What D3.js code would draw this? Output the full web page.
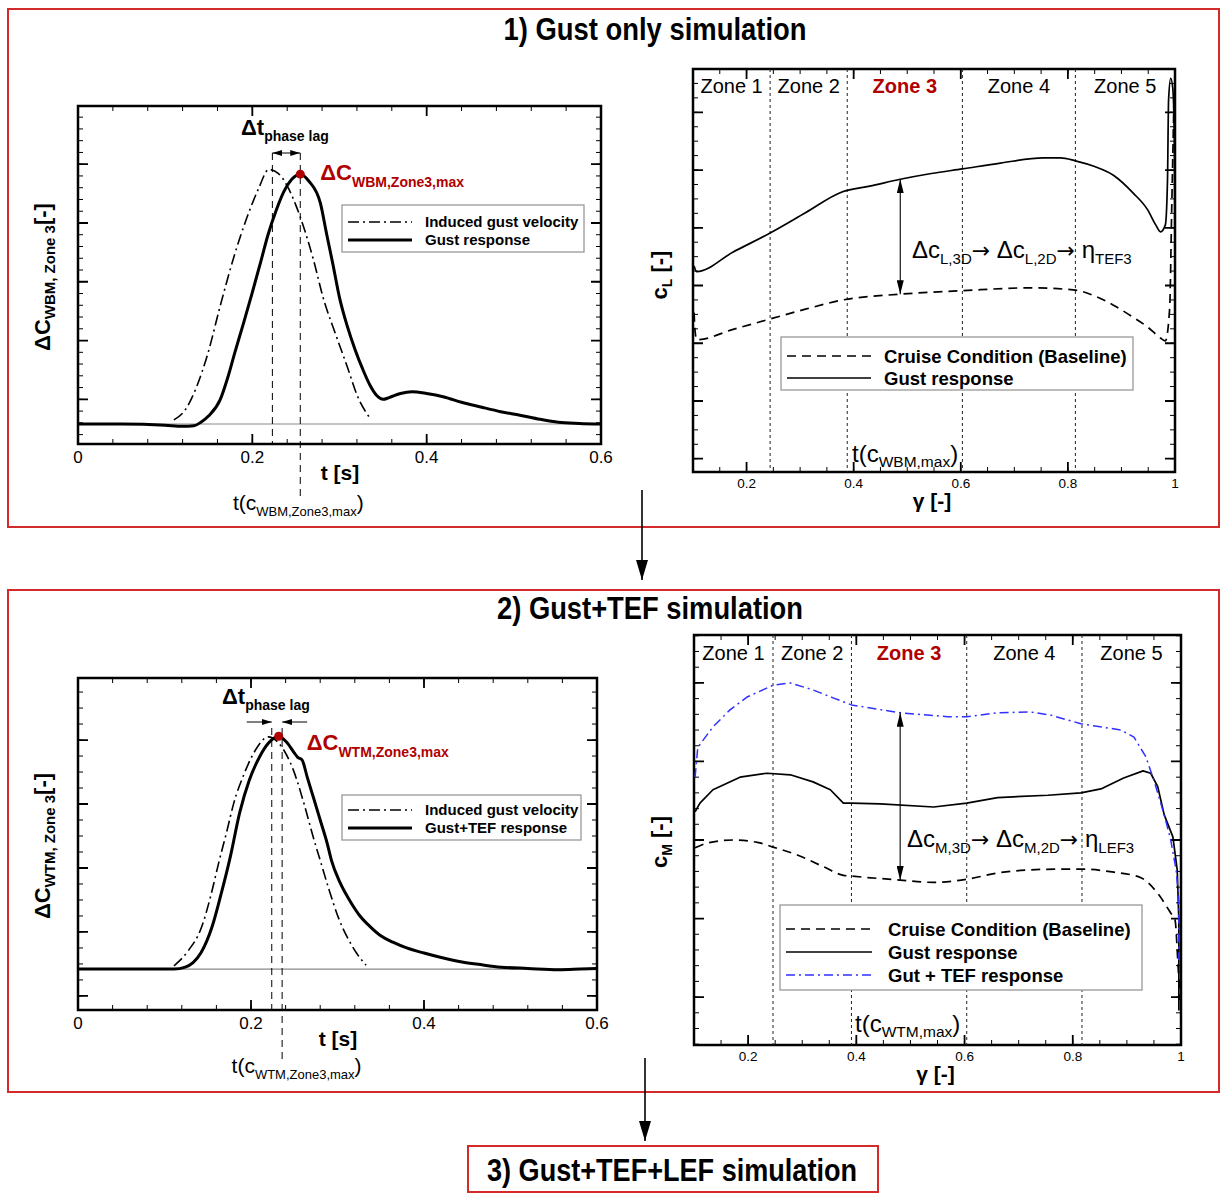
<!DOCTYPE html>
<html>
<head>
<meta charset="utf-8">
<script src="https://cdn.jsdelivr.net/npm/d3@7"></script>
<style>
body { margin: 0; background: #fff; }
text { font-family: "Liberation Sans", Arial, Helvetica, sans-serif; }
.title { font-family: "Liberation Sans Narrow", "Liberation Sans", sans-serif; }
</style>
</head>
<body>
<svg id="fig" width="1221" height="1194"></svg>
<script>
// ---- ticks and categories
var tTicks = [0, 0.2, 0.4, 0.6];
var gammaTicks = [0.2, 0.4, 0.6, 0.8, 1];
var zoneNames = ["Zone 1", "Zone 2", "Zone 3", "Zone 4", "Zone 5"];
var zoneBoundsLift = [0.244, 0.388, 0.603, 0.814];
var zoneBoundsMoment = [0.246, 0.391, 0.604, 0.817];
var panelTitles = ["1) Gust only simulation", "2) Gust+TEF simulation", "3) Gust+TEF+LEF simulation"];
var legendTop = ["Induced gust velocity", "Gust response"];
var legendBottom = ["Induced gust velocity", "Gust+TEF response"];
var legendLift = ["Cruise Condition (Baseline)", "Gust response"];
var legendMoment = ["Cruise Condition (Baseline)", "Gust response", "Gut + TEF response"];

// ---- panel 1, left: [t, dC]
var gustVelocityTop = [[0.11,0.07],[0.123,0.24],[0.136,0.63],[0.149,1.2],[0.163,2.0],[0.18,2.9],[0.194,3.52],[0.207,4.0],[0.219,4.33],
  [0.23,4.26],[0.24,4.05],[0.25,3.72],[0.26,3.3],[0.27,2.8],[0.282,2.11],[0.295,1.55],[0.309,0.97],[0.321,0.46],[0.335,0.1]];
var gustResponseTop = [[0,0],[0.05,0],[0.1,-0.02],[0.12,-0.04],[0.133,-0.03],[0.141,0.03],[0.15,0.14],[0.163,0.41],[0.172,0.8],
  [0.18,1.22],[0.19,1.72],[0.2,2.24],[0.21,2.78],[0.218,3.22],[0.227,3.62],[0.236,3.95],[0.245,4.16],[0.255,4.25],[0.265,4.13],
  [0.278,3.76],[0.285,3.25],[0.292,2.75],[0.3,2.15],[0.309,1.66],[0.318,1.26],[0.327,0.92],[0.335,0.66],[0.343,0.48],[0.35,0.42],
  [0.357,0.45],[0.37,0.52],[0.383,0.55],[0.4,0.52],[0.42,0.46],[0.44,0.37],[0.462,0.29],[0.485,0.21],[0.507,0.15],[0.53,0.08],
  [0.551,0.03],[0.575,0.01],[0.6,0]];
var phaseLagTop = [0.223, 0.255];
var peakTop = [0.255, 4.25];

// ---- panel 2, left: [t, dC]
var gustVelocityBottom = [[0.111,0.05],[0.127,0.28],[0.143,0.66],[0.153,1.12],[0.163,1.68],[0.172,2.15],[0.18,2.59],[0.192,3.05],
  [0.205,3.42],[0.22,3.63],[0.234,3.5],[0.249,3.11],[0.261,2.6],[0.272,2.06],[0.28,1.7],[0.29,1.25],[0.302,0.77],[0.312,0.48],
  [0.322,0.25],[0.333,0.06]];
var gustTefResponseBottom = [[0,0],[0.05,0],[0.111,0],[0.124,0.03],[0.133,0.1],[0.142,0.25],[0.155,0.66],[0.165,1.15],[0.176,1.75],
  [0.187,2.45],[0.198,2.95],[0.21,3.32],[0.22,3.53],[0.232,3.64],[0.241,3.55],[0.25,3.38],[0.254,3.31],[0.259,3.27],[0.265,3.0],
  [0.272,2.69],[0.28,2.33],[0.288,1.97],[0.293,1.7],[0.303,1.35],[0.316,1.03],[0.326,0.83],[0.338,0.66],[0.35,0.52],[0.364,0.42],
  [0.38,0.33],[0.4,0.25],[0.42,0.18],[0.444,0.11],[0.465,0.07],[0.489,0.03],[0.52,0.01],[0.555,-0.01],[0.58,0],[0.6,0.01]];
var phaseLagBottom = [0.224, 0.236];
var peakBottom = [0.232, 3.64];

// ---- panel 1, right: [gamma, cL]
var cLBaseline = [[0.102,2.53],[0.104,2.2],[0.107,2.06],[0.175,2.24],[0.244,2.42],[0.31,2.59],[0.38,2.75],[0.487,2.85],[0.603,2.91],
  [0.73,2.96],[0.814,2.92],[0.85,2.82],[0.885,2.66],[0.92,2.46],[0.949,2.28],[0.973,2.09],[0.982,2.04],[0.99,2.6],[0.994,4.4],[0.998,6.2]];
var cLGust = [[0.102,3.34],[0.107,3.24],[0.175,3.58],[0.244,3.91],[0.31,4.26],[0.378,4.62],[0.43,4.72],[0.487,4.84],[0.545,4.94],
  [0.603,5.02],[0.674,5.12],[0.754,5.21],[0.786,5.21],[0.814,5.16],[0.85,5.06],[0.885,4.91],[0.922,4.6],[0.949,4.31],[0.964,4.05],
  [0.973,3.93],[0.982,4.05],[0.986,4.83],[0.988,6.21],[0.992,6.59],[0.996,6.4],[0.999,5.4],[1.0,2.92]];
var arrowGammaLift = 0.487;

// ---- panel 2, right: [gamma, cM]
var cMBaseline = [[0.102,1.9],[0.124,1.96],[0.172,2.0],[0.217,1.97],[0.246,1.91],[0.291,1.81],[0.339,1.66],[0.376,1.55],[0.391,1.54],
  [0.481,1.49],[0.543,1.46],[0.604,1.5],[0.661,1.58],[0.722,1.62],[0.783,1.63],[0.815,1.63],[0.876,1.59],[0.926,1.52],[0.957,1.32],
  [0.981,1.07],[0.989,0.98],[0.994,0.47],[0.998,-0.04]];
var cMGust = [[0.102,2.36],[0.111,2.47],[0.135,2.64],[0.185,2.8],[0.235,2.85],[0.278,2.83],[0.32,2.74],[0.352,2.64],[0.376,2.47],
  [0.391,2.47],[0.444,2.46],[0.543,2.42],[0.604,2.47],[0.661,2.54],[0.754,2.57],[0.815,2.6],[0.852,2.65],[0.894,2.79],[0.93,2.88],
  [0.944,2.85],[0.957,2.68],[0.969,2.32],[0.985,2.04],[0.993,1.62],[0.996,0.98],[0.996,-0.17]];
var cMGustTef = [[0.102,2.8],[0.107,3.18],[0.135,3.44],[0.167,3.66],[0.198,3.82],[0.246,3.97],[0.278,4.0],[0.32,3.91],[0.357,3.81],
  [0.391,3.72],[0.444,3.66],[0.481,3.62],[0.569,3.57],[0.604,3.57],[0.661,3.62],[0.722,3.63],[0.759,3.59],[0.815,3.48],[0.889,3.4],
  [0.913,3.31],[0.935,3.06],[0.95,2.76],[0.969,2.32],[0.981,2.0],[0.991,1.62],[0.996,1.24],[0.996,0.47]];
var arrowGammaMoment = 0.481;

var RED_BOX = "#d42a2a", RED_TXT = "#b00000", BLUE = "#3030ff";

var svg = d3.select("#fig");
svg.append("rect").attr("width", 1221).attr("height", 1194).attr("fill", "#fff");

var defs = svg.append("defs");
function addMarker(id, w, h) {
    defs.append("marker").attr("id", id)
        .attr("viewBox", "0 0 " + w + " " + h)
        .attr("refX", w).attr("refY", h / 2)
        .attr("markerWidth", w).attr("markerHeight", h)
        .attr("markerUnits", "userSpaceOnUse")
        .attr("orient", "auto-start-reverse")
        .append("path").attr("d", "M0,0L" + w + "," + (h / 2) + "L0," + h + "z").attr("fill", "#000");
}
addMarker("headSmall", 10, 6);
addMarker("headMid", 14, 7);
addMarker("headBig", 20, 12);

// text with subscripts: parts = [{text, size, dy, family}]
function richText(parent, x, y, parts, anchor) {
    var t = parent.append("text").attr("x", x).attr("y", y).attr("text-anchor", anchor || "start");
    var cur = 0;
    parts.forEach(function(p) {
        var off = p.dy || 0;
        var s = t.append("tspan").text(p.text).attr("font-size", p.size).attr("dy", off - cur);
        if (p.family) s.attr("font-family", p.family);
        cur = off;
    });
    return t;
}

function inDomain(scale, v) {
    var d = scale.domain();
    return v >= Math.min(d[0], d[1]) - 1e-9 && v <= Math.max(d[0], d[1]) + 1e-9;
}

function drawFrame(x, y, xMajor, xMinor, yMajor, yMinor) {
    var x0 = x.range()[0], x1 = x.range()[1], yb = y.range()[0], yt = y.range()[1];
    var g = svg.append("g").attr("stroke", "#000").attr("fill", "none");
    xMinor = xMinor.filter(function(d) { return inDomain(x, d); });
    yMinor = yMinor.filter(function(d) { return inDomain(y, d); });
    yMajor = yMajor.filter(function(d) { return inDomain(y, d); });

    g.selectAll(".xminor").data(xMinor).enter().append("path")
        .attr("stroke-width", 1)
        .attr("d", function(d) { var p = x(d); return "M" + p + "," + yb + "v-5M" + p + "," + yt + "v5"; });
    g.selectAll(".xmajor").data(xMajor).enter().append("path")
        .attr("stroke-width", 1.8)
        .attr("d", function(d) { var p = x(d); return "M" + p + "," + yb + "v-10M" + p + "," + yt + "v10"; });
    g.selectAll(".yminor").data(yMinor).enter().append("path")
        .attr("stroke-width", 1)
        .attr("d", function(d) { var p = y(d); return "M" + x0 + "," + p + "h5M" + x1 + "," + p + "h-5"; });
    g.selectAll(".ymajor").data(yMajor).enter().append("path")
        .attr("stroke-width", 1.8)
        .attr("d", function(d) { var p = y(d); return "M" + x0 + "," + p + "h10M" + x1 + "," + p + "h-10"; });
    g.append("rect").attr("x", x0).attr("y", yt).attr("width", x1 - x0).attr("height", yb - yt)
        .attr("stroke-width", 2.5);
}

function drawXLabels(x, ticks, ypos, size) {
    svg.append("g").selectAll("text").data(ticks).enter().append("text")
        .attr("x", function(d) { return x(d); })
        .attr("y", ypos)
        .attr("text-anchor", "middle")
        .attr("font-size", size)
        .text(function(d) { return d3.format("~g")(d); });
}

function drawLine(data, x, y, width, dash, color) {
    var line = d3.line().x(function(d) { return x(d[0]); }).y(function(d) { return y(d[1]); }).curve(d3.curveMonotoneX);
    if (data.some(function(d, i) { return i > 0 && d[0] <= data[i - 1][0]; })) line.curve(d3.curveLinear);
    svg.append("path").datum(data).attr("d", line)
        .attr("fill", "none").attr("stroke", color || "#000")
        .attr("stroke-width", width).attr("stroke-linejoin", "round")
        .attr("stroke-dasharray", dash || null);
}

function drawLegend(bx, by, bw, bh, labels, styles, rowY, size) {
    var g = svg.append("g");
    g.append("rect").attr("x", bx).attr("y", by).attr("width", bw).attr("height", bh)
        .attr("fill", "#fff").attr("stroke", "#999").attr("stroke-width", 1.3);
    g.selectAll(".lgline").data(labels).enter().append("line")
        .attr("x1", bx + 6).attr("x2", bx + styles.lineLen)
        .attr("y1", function(d, i) { return rowY[i]; })
        .attr("y2", function(d, i) { return rowY[i]; })
        .attr("stroke", function(d, i) { return styles.color[i]; })
        .attr("stroke-width", function(d, i) { return styles.width[i]; })
        .attr("stroke-dasharray", function(d, i) { return styles.dash[i]; });
    g.selectAll(".lgtext").data(labels).enter().append("text")
        .attr("x", bx + styles.textX)
        .attr("y", function(d, i) { return rowY[i] + size * 0.36; })
        .attr("font-size", size).attr("font-weight", "bold")
        .text(function(d) { return d; });
}

// ---------- panel frames and titles
svg.append("rect").attr("x", 8).attr("y", 9).attr("width", 1211).attr("height", 518)
    .attr("fill", "none").attr("stroke", RED_BOX).attr("stroke-width", 2);
svg.append("rect").attr("x", 8).attr("y", 590).attr("width", 1211).attr("height", 502)
    .attr("fill", "none").attr("stroke", RED_BOX).attr("stroke-width", 2);
svg.append("rect").attr("x", 468).attr("y", 1146).attr("width", 410).attr("height", 46)
    .attr("fill", "none").attr("stroke", RED_BOX).attr("stroke-width", 2);

var titlePos = [[655, 40, 303], [650, 619, 306], [672, 1181, 370]];
svg.selectAll(".title").data(panelTitles).enter().append("text")
    .attr("class", "title")
    .attr("x", function(d, i) { return titlePos[i][0]; })
    .attr("y", function(d, i) { return titlePos[i][1]; })
    .attr("text-anchor", "middle")
    .attr("font-size", 31).attr("font-weight", "bold")
    .attr("textLength", function(d, i) { return titlePos[i][2]; })
    .attr("lengthAdjust", "spacingAndGlyphs")
    .text(function(d) { return d; });

// arrows between panels
svg.append("line").attr("x1", 642).attr("y1", 490).attr("x2", 642).attr("y2", 580)
    .attr("stroke", "#000").attr("stroke-width", 1.6).attr("marker-end", "url(#headBig)");
svg.append("line").attr("x1", 645).attr("y1", 1058).attr("x2", 645).attr("y2", 1141)
    .attr("stroke", "#000").attr("stroke-width", 1.6).attr("marker-end", "url(#headBig)");

// ---------- time history charts
function timeChart(x, y, velocity, response, phaseLag, peak, lagArrowsInward, labels, ySub, peakSub, tSub) {
    var yb = y.range()[0], yt = y.range()[1];
    drawFrame(x, y, tTicks, d3.range(0, 0.61, 0.04), labels.yMajor, labels.yMinor);
    drawXLabels(x, tTicks, yb + 19, 17);

    // zero line
    svg.append("line").attr("x1", x(0)).attr("x2", x(0.6)).attr("y1", y(0)).attr("y2", y(0))
        .attr("stroke", "#8a8a8a").attr("stroke-width", 1.2);

    // phase lag guide lines
    svg.append("line").attr("x1", x(phaseLag[0])).attr("x2", x(phaseLag[0]))
        .attr("y1", labels.lagY).attr("y2", yb)
        .attr("stroke", "#000").attr("stroke-width", 1).attr("stroke-dasharray", "7,5");
    svg.append("line").attr("x1", x(phaseLag[1])).attr("x2", x(phaseLag[1]))
        .attr("y1", labels.lagY).attr("y2", labels.lagBottom)
        .attr("stroke", "#000").attr("stroke-width", 1).attr("stroke-dasharray", "7,5");

    drawLine(velocity, x, y, 1.6, "11,4,2,4");
    drawLine(response, x, y, 3);

    if (lagArrowsInward) {
        svg.append("line").attr("x1", x(phaseLag[0]) - 25).attr("x2", x(phaseLag[0]))
            .attr("y1", labels.lagArrowY).attr("y2", labels.lagArrowY)
            .attr("stroke", "#000").attr("stroke-width", 1).attr("marker-end", "url(#headSmall)");
        svg.append("line").attr("x1", x(phaseLag[1]) + 25).attr("x2", x(phaseLag[1]))
            .attr("y1", labels.lagArrowY).attr("y2", labels.lagArrowY)
            .attr("stroke", "#000").attr("stroke-width", 1).attr("marker-end", "url(#headSmall)");
    } else {
        svg.append("line").attr("x1", x(phaseLag[0])).attr("x2", x(phaseLag[1]))
            .attr("y1", labels.lagArrowY).attr("y2", labels.lagArrowY)
            .attr("stroke", "#000").attr("stroke-width", 1)
            .attr("marker-start", "url(#headSmall)").attr("marker-end", "url(#headSmall)");
    }

    svg.append("circle").attr("cx", x(peak[0])).attr("cy", y(peak[1])).attr("r", 4.5).attr("fill", RED_TXT);

    richText(svg, labels.lagTextX, labels.lagArrowY - 18,
        [{text: "\u0394t", size: 22}, {text: "phase lag", size: 14, dy: 6}])
        .attr("font-weight", "bold");
    richText(svg, x(peak[0]) + labels.peakDx, y(peak[1]) + labels.peakDy,
        [{text: "\u0394C", size: 22}, {text: peakSub, size: 14, dy: 7}])
        .attr("font-weight", "bold").attr("fill", RED_TXT);

    richText(svg, labels.tsX, yb + 36, [{text: "t [s]", size: 21}], "middle").attr("font-weight", "bold");
    richText(svg, x(0.255) - 2, yb + labels.tcDy,
        [{text: "t(c", size: 21}, {text: tSub, size: 13, dy: 6}, {text: ")", size: 21}], "middle");

    var gy = svg.append("g").attr("transform", "translate(50," + ((yb + yt) / 2 + 2) + ") rotate(-90)");
    richText(gy, 0, 0, [{text: "\u0394C", size: 22}, {text: ySub, size: 15, dy: 5}, {text: "[-]", size: 22}], "middle")
        .attr("font-weight", "bold");
}

var xT1 = d3.scaleLinear().domain([0, 0.6]).range([78, 601]);
var yT1 = d3.scaleLinear().domain([-0.34, 5.41]).range([444, 106]);
timeChart(xT1, yT1, gustVelocityTop, gustResponseTop, phaseLagTop, peakTop, false,
    {yMajor: d3.range(0.42, 5.41, 1), yMinor: d3.range(-0.18, 5.41, 0.2), lagY: 153, lagBottom: 497,
     lagArrowY: 153, lagTextX: 241, peakDx: 20, peakDy: 6, tcDy: 66, tsX: 340},
    "WBM, Zone 3", "WBM,Zone3,max", "WBM,Zone3,max");
drawLegend(342, 205, 242, 47, legendTop,
    {lineLen: 70, textX: 83, color: ["#000", "#000"], width: [1.6, 3], dash: ["11,4,2,4", null]}, [222, 240], 15);

var xT2 = d3.scaleLinear().domain([0, 0.6]).range([78, 597]);
var yT2 = d3.scaleLinear().domain([-0.64, 4.55]).range([1010, 678]);
timeChart(xT2, yT2, gustVelocityBottom, gustTefResponseBottom, phaseLagBottom, peakBottom, true,
    {yMajor: d3.range(-0.42, 4.6, 1), yMinor: d3.range(-0.42, 4.6, 0.25), lagY: 728, lagBottom: 1063,
     lagArrowY: 722, lagTextX: 222, peakDx: 28, peakDy: 14, tcDy: 63, tsX: 338},
    "WTM, Zone 3", "WTM,Zone3,max", "WTM,Zone3,max");
drawLegend(342, 795, 239, 45, legendBottom,
    {lineLen: 70, textX: 83, color: ["#000", "#000"], width: [1.6, 3], dash: ["11,4,2,4", null]}, [810, 828], 15);

// ---------- spanwise charts
function spanChart(x, y, yMajor, yMinor, zoneBounds, labelY) {
    var yb = y.range()[0], yt = y.range()[1];
    drawFrame(x, y, gammaTicks, d3.range(0.1, 1.001, 0.05), yMajor, yMinor);
    drawXLabels(x, gammaTicks, yb + 16, 13.5);
    svg.append("g").selectAll("line").data(zoneBounds).enter().append("line")
        .attr("x1", function(d) { return x(d); }).attr("x2", function(d) { return x(d); })
        .attr("y1", yt).attr("y2", yb)
        .attr("stroke", "#222").attr("stroke-width", 1).attr("stroke-dasharray", "3,3");
    var edges = [0.1].concat(zoneBounds, [1]);
    svg.append("g").selectAll("text").data(zoneNames).enter().append("text")
        .attr("x", function(d, i) { return x((edges[i] + edges[i + 1]) / 2); })
        .attr("y", labelY)
        .attr("text-anchor", "middle")
        .attr("font-size", 20)
        .attr("font-weight", function(d, i) { return i == 2 ? "bold" : "normal"; })
        .attr("fill", function(d, i) { return i == 2 ? RED_TXT : "#000"; })
        .text(function(d) { return d; });
    richText(svg, (x(0.1) + x(1)) / 2 - 2, yb + 36, [{text: "\u03b3 [-]", size: 21}], "middle").attr("font-weight", "bold");
}

function findValue(data, g) {
    for (var i = 0; i < data.length; i++) { if (Math.abs(data[i][0] - g) < 1e-6) return data[i][1]; }
    return null;
}

var ARROW_FONT = "DejaVu Sans";

var xG1 = d3.scaleLinear().domain([0.1, 1]).range([693, 1175]);
var yG1 = d3.scaleLinear().domain([-0.23, 6.75]).range([472, 69]);
spanChart(xG1, yG1, d3.range(0, 6.8, 1), d3.range(0, 6.8, 0.25), zoneBoundsLift, 93);
drawLine(cLBaseline, xG1, yG1, 1.7, "9,6");
drawLine(cLGust, xG1, yG1, 1.7);
svg.append("line").attr("x1", xG1(arrowGammaLift)).attr("x2", xG1(arrowGammaLift))
    .attr("y1", yG1(findValue(cLBaseline, arrowGammaLift))).attr("y2", yG1(findValue(cLGust, arrowGammaLift)))
    .attr("stroke", "#000").attr("stroke-width", 1.1)
    .attr("marker-start", "url(#headMid)").attr("marker-end", "url(#headMid)");
richText(svg, 912, 258, [{text: "\u0394c", size: 24}, {text: "L,3D", size: 15, dy: 6}, {text: "\u2192", size: 22, family: ARROW_FONT},
    {text: " \u0394c", size: 24}, {text: "L,2D", size: 15, dy: 6}, {text: "\u2192", size: 22, family: ARROW_FONT},
    {text: " \u03b7", size: 24}, {text: "TEF3", size: 15, dy: 6}]);
drawLegend(781, 337, 352, 53, legendLift,
    {lineLen: 90, textX: 103, color: ["#000", "#000"], width: [1.7, 1.7], dash: ["9,6", null]}, [356, 378], 18.5);
richText(svg, 852, 462, [{text: "t(c", size: 24}, {text: "WBM,max", size: 15.5, dy: 5}, {text: ")", size: 24}]);
var gl1 = svg.append("g").attr("transform", "translate(667,275) rotate(-90)");
richText(gl1, 0, 0, [{text: "c", size: 22}, {text: "L", size: 14, dy: 5}, {text: " [-]", size: 22}], "middle").attr("font-weight", "bold");

var xG2 = d3.scaleLinear().domain([0.1, 1]).range([694, 1181]);
var yG2 = d3.scaleLinear().domain([-0.61, 4.61]).range([1045, 635]);
spanChart(xG2, yG2, d3.range(0, 4.7, 1), d3.range(-0.6, 4.7, 0.2), zoneBoundsMoment, 660);
drawLine(cMBaseline, xG2, yG2, 1.7, "9,6");
drawLine(cMGust, xG2, yG2, 1.7);
drawLine(cMGustTef, xG2, yG2, 1.5, "9,4,2,4", BLUE);
svg.append("line").attr("x1", xG2(arrowGammaMoment)).attr("x2", xG2(arrowGammaMoment))
    .attr("y1", yG2(findValue(cMBaseline, arrowGammaMoment))).attr("y2", yG2(findValue(cMGustTef, arrowGammaMoment)))
    .attr("stroke", "#000").attr("stroke-width", 1.1)
    .attr("marker-start", "url(#headMid)").attr("marker-end", "url(#headMid)");
richText(svg, 907, 847, [{text: "\u0394c", size: 24}, {text: "M,3D", size: 15, dy: 6}, {text: "\u2192", size: 22, family: ARROW_FONT},
    {text: " \u0394c", size: 24}, {text: "M,2D", size: 15, dy: 6}, {text: "\u2192", size: 22, family: ARROW_FONT},
    {text: " \u03b7", size: 24}, {text: "LEF3", size: 15, dy: 6}]);
drawLegend(780, 905, 362, 85, legendMoment,
    {lineLen: 92, textX: 108, color: ["#000", "#000", BLUE], width: [1.7, 1.7, 1.5], dash: ["9,6", null, "9,4,2,4"]},
    [929, 952, 975], 18.5);
richText(svg, 855, 1032, [{text: "t(c", size: 24}, {text: "WTM,max", size: 15.5, dy: 5}, {text: ")", size: 24}]);
var gl2 = svg.append("g").attr("transform", "translate(667,842) rotate(-90)");
richText(gl2, 0, 0, [{text: "c", size: 22}, {text: "M", size: 14, dy: 5}, {text: " [-]", size: 22}], "middle").attr("font-weight", "bold");
</script>
</body>
</html>
